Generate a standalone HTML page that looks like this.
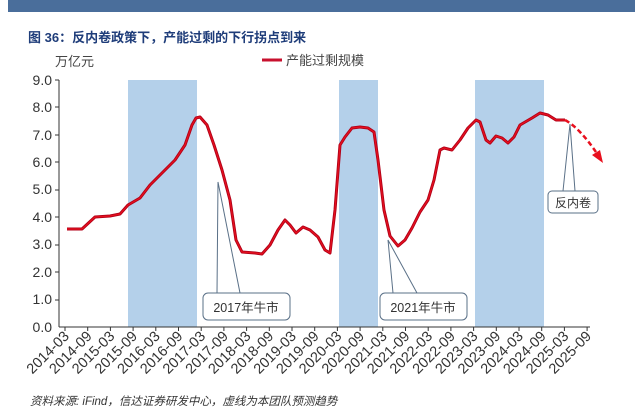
<!DOCTYPE html><html><head><meta charset="utf-8"><style>body{margin:0;background:#fff}svg{display:block}</style></head><body>
<svg width="635" height="418" xmlns="http://www.w3.org/2000/svg" font-family="Liberation Sans, Noto Sans CJK SC, sans-serif">
<rect x="8" y="0" width="627" height="12" fill="#4a6e9b"/>
<text x="28" y="42" font-size="13" font-weight="bold" fill="#1f3d7a">图 36：反内卷政策下，产能过剩的下行拐点到来</text>
<rect x="128" y="80" width="69" height="247" fill="#b4d0ea"/>
<rect x="339" y="80" width="39" height="247" fill="#b4d0ea"/>
<rect x="475" y="80" width="69" height="247" fill="#b4d0ea"/>
<text x="55" y="66" font-size="13" fill="#444">万亿元</text>
<line x1="262" y1="60" x2="282" y2="60" stroke="#c8102e" stroke-width="3"/>
<text x="286" y="65" font-size="13" fill="#444">产能过剩规模</text>
<g font-size="14" fill="#333" text-anchor="end">
<text x="52" y="85">9.0</text><text x="52" y="112">8.0</text><text x="52" y="140">7.0</text><text x="52" y="167">6.0</text><text x="52" y="194">5.0</text><text x="52" y="222">4.0</text><text x="52" y="249">3.0</text><text x="52" y="277">2.0</text><text x="52" y="304">1.0</text><text x="52" y="332">0.0</text>
</g>
<g stroke="#333" stroke-width="1">
<line x1="59" y1="80" x2="59" y2="327"/>
<line x1="59" y1="327" x2="590" y2="327"/>
<line x1="55" y1="80" x2="59" y2="80"/><line x1="55" y1="107" x2="59" y2="107"/><line x1="55" y1="135" x2="59" y2="135"/><line x1="55" y1="162" x2="59" y2="162"/><line x1="55" y1="190" x2="59" y2="190"/><line x1="55" y1="217" x2="59" y2="217"/><line x1="55" y1="245" x2="59" y2="245"/><line x1="55" y1="272" x2="59" y2="272"/><line x1="55" y1="300" x2="59" y2="300"/>
</g>
<g id="ticks" stroke="#333"></g>
<g id="labs" font-size="14.5" fill="#333"></g>
<path d="M217,293 L218,182 L240,293" fill="none" stroke="#5a7087" stroke-width="1"/>
<path d="M393,293 L388,240 L417,293" fill="none" stroke="#5a7087" stroke-width="1"/>
<path d="M563,191 L570,124 L575,191" fill="none" stroke="#5a7087" stroke-width="1"/>
<rect x="203" y="293" width="87" height="27" rx="5" fill="#fff" stroke="#5a7087"/>
<text x="246" y="312" font-size="12.5" fill="#333" text-anchor="middle">2017年牛市</text>
<rect x="380" y="293" width="87" height="27" rx="5" fill="#fff" stroke="#5a7087"/>
<text x="423" y="312" font-size="12.5" fill="#333" text-anchor="middle">2021年牛市</text>
<rect x="548" y="191" width="50" height="22" rx="4" fill="#fff" stroke="#5a7087"/>
<text x="573" y="207" font-size="12" fill="#333" text-anchor="middle">反内卷</text>
<polyline fill="none" stroke="#b00018" stroke-width="3" stroke-linejoin="round" points="67,229 82,229 95,217 110,216 120,214 128,205 140,198 150,185 165,170 175,160 185,145 192,125 196,118 200,117 207,125 214,145 222,170 230,200 236,240 242,252 255,253 262,254 270,245 278,230 285,220 290,225 296,233 303,227 310,230 318,237 325,250 330,253 335,210 340,145 345,137 352,128 360,127 368,128 374,132 378,160 384,210 390,236 398,246 405,240 412,228 420,212 428,200 434,180 440,150 444,148 452,150 460,140 468,128 476,120 480,122 486,140 490,143 496,136 502,138 508,143 514,137 520,125 532,118 540,113 548,115 556,120 565,120"/>
<polyline fill="none" stroke="#e8101e" stroke-width="1.2" stroke-linejoin="round" points="67,229 82,229 95,217 110,216 120,214 128,205 140,198 150,185 165,170 175,160 185,145 192,125 196,118 200,117 207,125 214,145 222,170 230,200 236,240 242,252 255,253 262,254 270,245 278,230 285,220 290,225 296,233 303,227 310,230 318,237 325,250 330,253 335,210 340,145 345,137 352,128 360,127 368,128 374,132 378,160 384,210 390,236 398,246 405,240 412,228 420,212 428,200 434,180 440,150 444,148 452,150 460,140 468,128 476,120 480,122 486,140 490,143 496,136 502,138 508,143 514,137 520,125 532,118 540,113 548,115 556,120 565,120"/>
<path d="M565,120 Q580,128 598,155" fill="none" stroke="#e8101e" stroke-width="2.5" stroke-dasharray="5,3"/>
<polygon points="603,163 592,155 600,150" fill="#e8101e"/>
<text x="30" y="405" font-size="11.5" font-style="italic" fill="#333">资料来源: iFind，信达证券研发中心，虚线为本团队预测趋势</text>
<script>
var t=document.getElementById('ticks'),l=document.getElementById('labs'),ns='http://www.w3.org/2000/svg';
var labs=[];for(var y=2014;y<=2025;y++){labs.push(y+'-03');labs.push(y+'-09');}
for(var i=0;i<24;i++){var x=65+i*22.7;
var ln=document.createElementNS(ns,'line');ln.setAttribute('x1',x);ln.setAttribute('x2',x);ln.setAttribute('y1',327);ln.setAttribute('y2',331);t.appendChild(ln);
var tx=document.createElementNS(ns,'text');tx.setAttribute('x',x+5);tx.setAttribute('y',337);tx.setAttribute('text-anchor','end');tx.setAttribute('transform','rotate(-45 '+(x+5)+' 337)');tx.textContent=labs[i];l.appendChild(tx);}
</script>
</svg>
</body></html>
